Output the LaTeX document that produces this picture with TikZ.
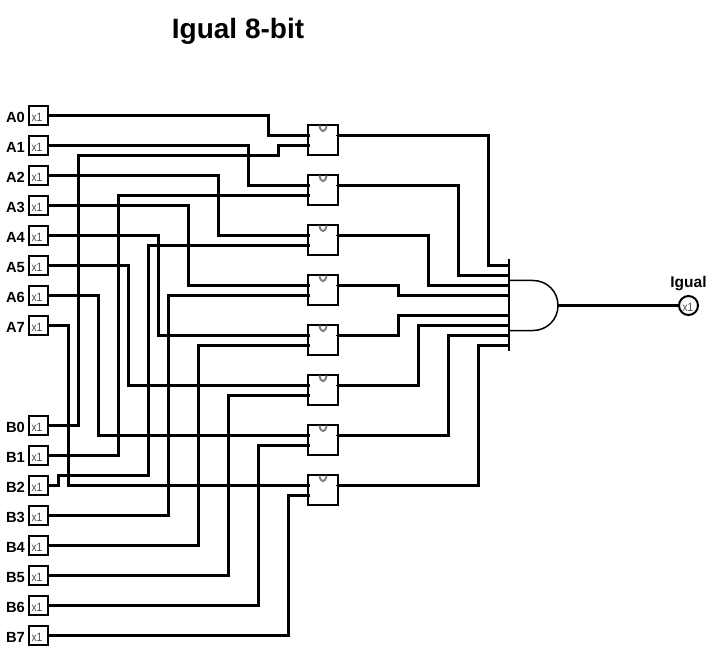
\documentclass[tikz,border=0pt]{standalone}
\usepackage{fontspec}
\setmainfont{Liberation Sans}
\tikzset{
  wire/.style={line width=3pt,draw=black},
  pin/.style={line width=1pt,draw=black},
  gatebox/.style={draw=black,line width=2pt,fill=white,rectangle,minimum width=30pt,minimum height=30pt,inner sep=0pt,outer sep=0pt},
  inbox/.style={draw=black,line width=2pt,fill=white,rectangle,minimum width=19pt,minimum height=19pt,inner sep=0pt,outer sep=0pt},
  outcirc/.style={draw=black,line width=2pt,fill=white,circle,minimum size=19pt,inner sep=0pt,outer sep=0pt},
  pinlabel/.style={font=\fontsize{14.7}{15}\selectfont\bfseries,inner sep=0pt,text=black},
  xone/.style={font=\fontsize{12}{12}\selectfont,text=black!70,inner sep=0pt,xscale=0.85},
  symb/.style={line width=2pt,draw=black!50},
  andshape/.style={line width=1.5pt,draw=black},
  andbar/.style={line width=2pt,draw=black}
}
\begin{document}
\begin{tikzpicture}[x=1pt,y=-1pt]
\useasboundingbox (0,0) rectangle (712,652);
\fill[white] (0,0) rectangle (712,652);
\node[font=\fontsize{28}{30}\selectfont\bfseries,inner sep=0pt] (title) at (238,31) {Igual 8-bit};
% input pins
\foreach \i in {0,...,7}{
  \pgfmathsetmacro{\ya}{115.5+30*\i}
  \pgfmathsetmacro{\yb}{425.5+30*\i}
  \node[inbox] (A\i) at (38.5,\ya) {};
  \node[inbox] (B\i) at (38.5,\yb) {};
  \node[xone] (xa\i) at (37,\ya+2.3) {x1};
  \node[xone] (xb\i) at (37,\yb+2.3) {x1};
  \node[pinlabel] (la\i) at (15.5,\ya+1.6) {A\i};
  \node[pinlabel] (lb\i) at (15.5,\yb+1.6) {B\i};
}
% comparators
\foreach \i in {1,...,8}{
  \pgfmathsetmacro{\yc}{140+50*(\i-1)}
  \node[gatebox] (g\i) at (323,\yc) {};
  \coordinate (g\i a) at (310,\yc-4.5);
  \coordinate (g\i b) at (310,\yc+5.5);
  \coordinate (g\i o) at (336,\yc-4.5);
  \coordinate (g\i q) at (338,\yc-4.5);
  \draw[symb] (319.5,\yc-14.5) .. controls (320.5,\yc-7) and (325.5,\yc-7) .. (326.5,\yc-14.5);
  \draw[pin] (g\i o) -- (g\i q);
}
% wires to comparators
\draw[wire] (A0.east) -| (268.5,135.5) -- (g1a);
\draw[wire] (B0.east) -| (78.5,155.5) -| (278.5,145.5) -- (g1b);
\draw[wire] (A1.east) -| (248.5,185.5) -- (g2a);
\draw[wire] (B1.east) -| (118.5,195.5) -- (g2b);
\draw[wire] (A2.east) -| (218.5,235.5) -- (g3a);
\draw[wire] (B2.east) -| (58.5,475.5) -| (148.5,245.5) -- (g3b);
\draw[wire] (A3.east) -| (188.5,285.5) -- (g4a);
\draw[wire] (B3.east) -| (168.5,295.5) -- (g4b);
\draw[wire] (A4.east) -| (158.5,335.5) -- (g5a);
\draw[wire] (B4.east) -| (198.5,345.5) -- (g5b);
\draw[wire] (A5.east) -| (128.5,385.5) -- (g6a);
\draw[wire] (B5.east) -| (228.5,395.5) -- (g6b);
\draw[wire] (A6.east) -| (98.5,435.5) -- (g7a);
\draw[wire] (B6.east) -| (258.5,445.5) -- (g7b);
\draw[wire] (A7.east) -| (68.5,485.5) -- (g8a);
\draw[wire] (B7.east) -| (288.5,495.5) -- (g8b);
% AND gate
\coordinate (barT) at (509,259);
\coordinate (barB) at (509,351);
\coordinate (andT) at (509,280.5);
\coordinate (andB) at (509,330.5);
\coordinate (andO) at (558,305.5);
\draw[andshape] (andT) -- (533,280.5) .. controls (547,280.5) and (558,291.5) .. (andO) .. controls (558,319.5) and (547,330.5) .. (533,330.5) -- (andB);
% wires to AND
\draw[wire] (g1q) -| (488.5,265.5) -- (510,265.5);
\draw[wire] (g2q) -| (458.5,275.5) -- (510,275.5);
\draw[wire] (g3q) -| (428.5,285.5) -- (510,285.5);
\draw[wire] (g4q) -| (398.5,295.5) -- (510,295.5);
\draw[wire] (g5q) -| (398.5,315.5) -- (510,315.5);
\draw[wire] (g6q) -| (418.5,325.5) -- (510,325.5);
\draw[wire] (g7q) -| (448.5,335.5) -- (510,335.5);
\draw[wire] (g8q) -| (478.5,345.5) -- (510,345.5);
\draw[andbar] (barT) -- (barB);
% output
\node[outcirc] (out) at (688.5,305.5) {};
\node[xone] (xo) at (688,307.5) {x1};
\node[font=\fontsize{15.5}{16}\selectfont\bfseries,inner sep=0pt] (lo) at (688.5,284) {Igual};
\draw[wire] (andO) -- (out.west);
\end{tikzpicture}
\end{document}
